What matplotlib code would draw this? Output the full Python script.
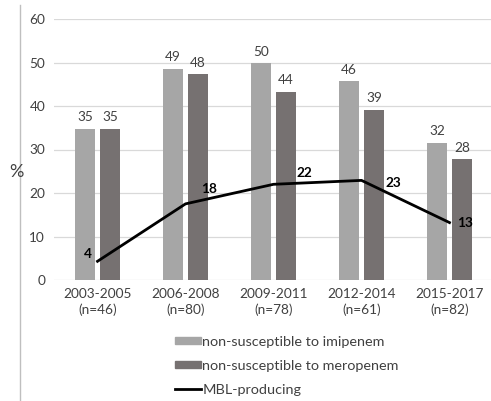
import matplotlib.pyplot as plt
from matplotlib.patches import Patch
from matplotlib.lines import Line2D
import numpy as np

periods = ["2003-2005\n(n=46)", "2006-2008\n(n=80)", "2009-2011\n(n=78)",
           "2012-2014\n(n=61)", "2015-2017\n(n=82)"]
imipenem = [35, 49, 50, 46, 32]
imipenem_h = [34.7, 48.5, 49.8, 45.7, 31.5]
meropenem = [35, 48, 44, 39, 28]
meropenem_h = [34.7, 47.3, 43.3, 39.1, 27.8]
mbl = [4, 18, 22, 23, 13]
mbl_y = [4.3, 17.5, 22.0, 22.9, 13.2]

plt.rcParams['font.family'] = ['Lato', 'DejaVu Sans']

c_imi = '#a6a6a6'
c_mero = '#767171'
txt = '#404040'
fs = 9.8

fig = plt.figure(figsize=(4.91, 4.01), dpi=100)
ax = fig.add_axes([53.5 / 491, 1 - 280 / 401, 440 / 491, 261 / 401])

x = np.arange(len(periods))
w = 0.227
off = 0.142
ax.bar(x - off, imipenem_h, w, color=c_imi, zorder=2)
ax.bar(x + off, meropenem_h, w, color=c_mero, zorder=2)
for i in range(len(x)):
    ax.annotate(str(imipenem[i]), (x[i] - off, imipenem_h[i]), xytext=(0, 4),
                textcoords='offset points', ha='center', va='bottom',
                fontsize=fs, color=txt)
    ax.annotate(str(meropenem[i]), (x[i] + off, meropenem_h[i]), xytext=(0, 4),
                textcoords='offset points', ha='center', va='bottom',
                fontsize=fs, color=txt)

ax.plot(x, mbl_y, color='black', lw=2, zorder=3)
label_offsets = [(-7, 5), (17, 11), (22, 8), (23, -2), (11, 0)]
for i in range(len(x)):
    ax.annotate(str(mbl[i]), (x[i], mbl_y[i]), xytext=label_offsets[i],
                textcoords='offset points', ha='center', va='center',
                fontsize=fs, fontweight='bold', color='black', zorder=4)

ax.set_xlim(-0.5, 4.5)
ax.set_ylim(0, 60)
ax.set_yticks(range(0, 61, 10))
ax.set_xticks(x)
ax.set_xticklabels(periods, fontsize=fs, color=txt, linespacing=1.25)
ax.tick_params(axis='y', labelsize=fs, labelcolor=txt, length=0, pad=6)
ax.tick_params(axis='x', length=0, pad=6)
ax.grid(axis='y', color='#d9d9d9', lw=0.9, zorder=0)
for s in ax.spines.values():
    s.set_visible(False)

fig.text(16 / 491, 1 - 172 / 401, '%', fontsize=13, color=txt, ha='center', va='center')

# grey vertical rule at the left edge
fig.add_artist(Line2D([20 / 491, 20 / 491], [0, 1 - 5 / 401], color='#bfbfbf', lw=1))

handles = [Patch(color=c_imi), Patch(color=c_mero), Line2D([], [], color='black', lw=2)]
labels = ['non-susceptible to imipenem', 'non-susceptible to meropenem', 'MBL-producing']
fig.legend(handles, labels, loc='upper left', bbox_to_anchor=(162 / 491, 1 - 323 / 401),
           frameon=False, fontsize=10.4, labelcolor=txt, handlelength=1.8,
           handleheight=0.35, handletextpad=0.1, labelspacing=0.82)

fig.savefig('out.png', dpi=100)
